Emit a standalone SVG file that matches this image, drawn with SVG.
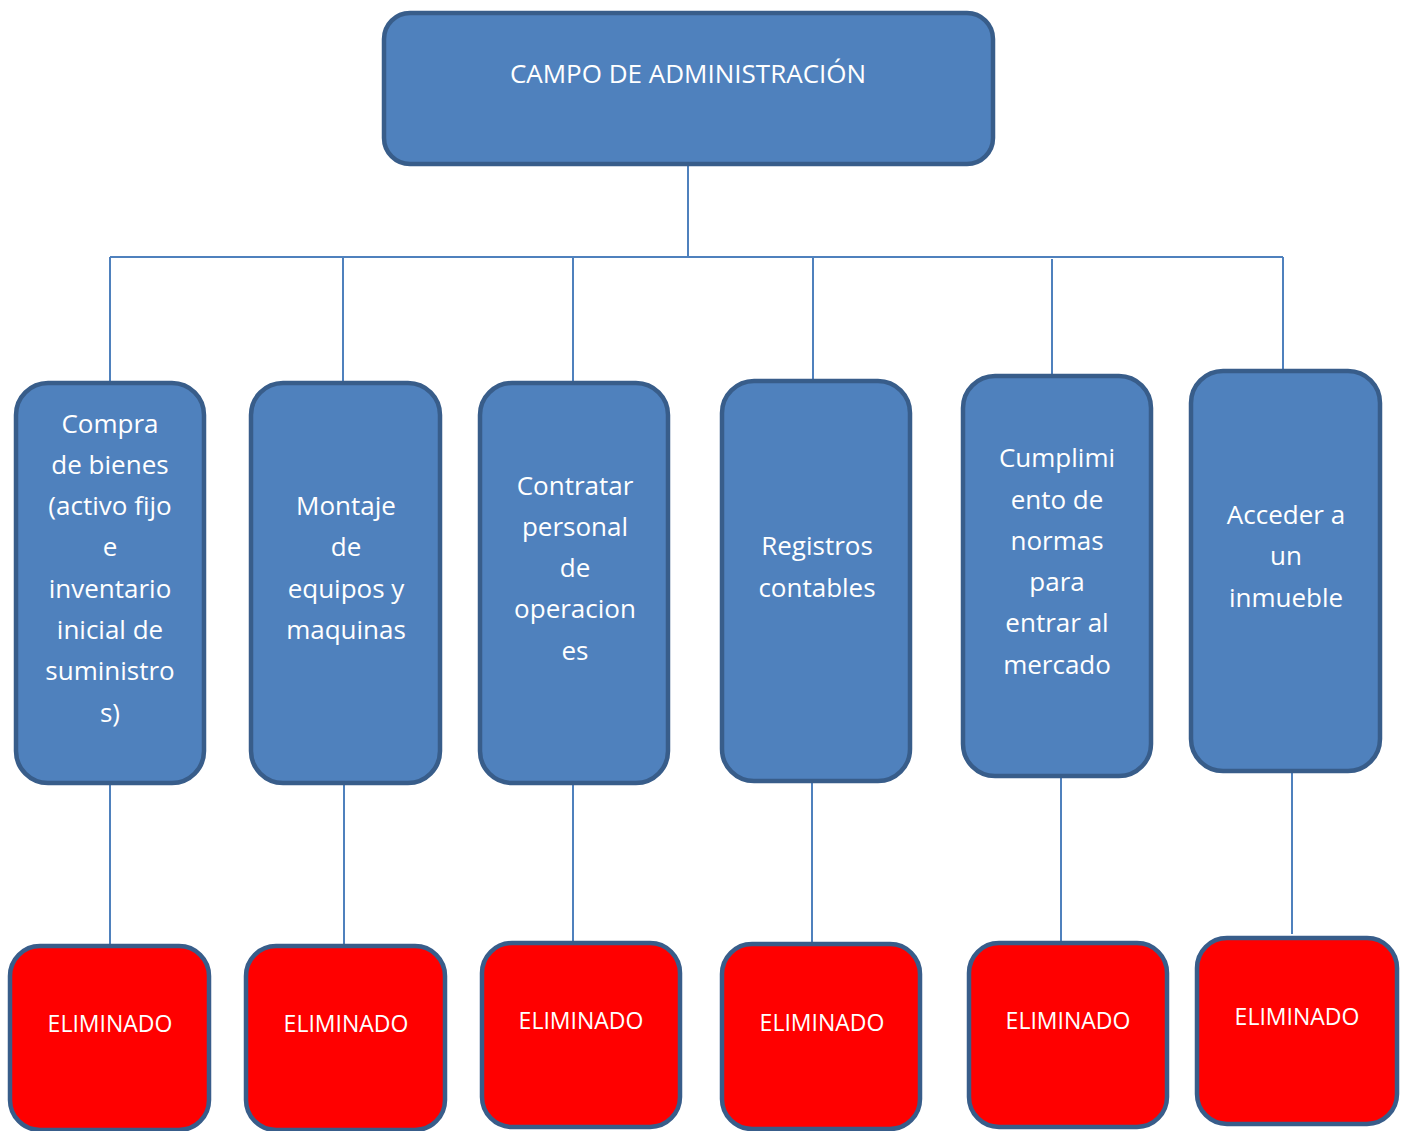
<svg xmlns="http://www.w3.org/2000/svg" width="1408" height="1131" viewBox="0 0 1408 1131">
<style>
.blue{fill:#4f81bd;stroke:#385d8a;stroke-width:4.5}
.red{fill:#ff0000;stroke:#385d8a;stroke-width:4.5}
.t{font-family:"Open Sans","Noto Sans",sans-serif;fill:#ffffff;text-anchor:middle}
.tb{font-size:26px}
.tr{font-size:23px}
.conn line{stroke:#4f81bd;stroke-width:2}
</style>
<rect width="1408" height="1131" fill="#ffffff"/>
<g id="connectors" class="conn">
<line x1="688" y1="166" x2="688" y2="257"/>
<line x1="110" y1="257" x2="1283" y2="257"/>
<line x1="110" y1="257" x2="110" y2="382"/>
<line x1="343" y1="257" x2="343" y2="382"/>
<line x1="573" y1="257" x2="573" y2="382"/>
<line x1="813" y1="257" x2="813" y2="380"/>
<line x1="1052" y1="259" x2="1052" y2="375"/>
<line x1="1283" y1="257" x2="1283" y2="370"/>
<line x1="110" y1="785" x2="110" y2="945"/>
<line x1="344" y1="785" x2="344" y2="945"/>
<line x1="573" y1="785" x2="573" y2="942"/>
<line x1="812" y1="783" x2="812" y2="943"/>
<line x1="1061" y1="778" x2="1061" y2="942"/>
<line x1="1292" y1="773" x2="1292" y2="934"/>
</g>
<g id="root">
<rect class="blue" x="384" y="13" width="609" height="151" rx="26"/>
<text class="t" x="688" y="83" font-size="26">CAMPO DE ADMINISTRACIÓN</text>
</g>
<g id="n1">
<rect class="blue" x="16" y="383" width="188" height="400" rx="32"/>
<text class="t tb"><tspan x="110" y="433">Compra</tspan><tspan x="110" y="474">de bienes</tspan><tspan x="110" y="515">(activo fijo</tspan><tspan x="110" y="556">e</tspan><tspan x="110" y="598">inventario</tspan><tspan x="110" y="639">inicial de</tspan><tspan x="110" y="680">suministro</tspan><tspan x="110" y="722">s)</tspan></text>
</g>
<g id="n2">
<rect class="blue" x="251" y="383" width="189" height="400" rx="32"/>
<text class="t tb"><tspan x="346" y="515">Montaje</tspan><tspan x="346" y="556">de</tspan><tspan x="346" y="598">equipos y</tspan><tspan x="346" y="639">maquinas</tspan></text>
</g>
<g id="n3">
<rect class="blue" x="480" y="383" width="188" height="400" rx="32"/>
<text class="t tb"><tspan x="575" y="495">Contratar</tspan><tspan x="575" y="536">personal</tspan><tspan x="575" y="577">de</tspan><tspan x="575" y="618">operacion</tspan><tspan x="575" y="660">es</tspan></text>
</g>
<g id="n4">
<rect class="blue" x="722" y="381" width="188" height="400" rx="32"/>
<text class="t tb"><tspan x="817" y="555">Registros</tspan><tspan x="817" y="597">contables</tspan></text>
</g>
<g id="n5">
<rect class="blue" x="963" y="376" width="188" height="400" rx="32"/>
<text class="t tb"><tspan x="1057" y="467">Cumplimi</tspan><tspan x="1057" y="509">ento de</tspan><tspan x="1057" y="550">normas</tspan><tspan x="1057" y="591">para</tspan><tspan x="1057" y="632">entrar al</tspan><tspan x="1057" y="674">mercado</tspan></text>
</g>
<g id="n6">
<rect class="blue" x="1191" y="371" width="189" height="400" rx="32"/>
<text class="t tb"><tspan x="1286" y="524">Acceder a</tspan><tspan x="1286" y="565">un</tspan><tspan x="1286" y="607">inmueble</tspan></text>
</g>
<g id="e1">
<rect class="red" x="10" y="946" width="199" height="184" rx="30"/>
<text class="t tr" x="110" y="1032">ELIMINADO</text>
</g>
<g id="e2">
<rect class="red" x="246" y="946" width="199" height="184" rx="30"/>
<text class="t tr" x="346" y="1032">ELIMINADO</text>
</g>
<g id="e3">
<rect class="red" x="482" y="943" width="198" height="184" rx="30"/>
<text class="t tr" x="581" y="1029">ELIMINADO</text>
</g>
<g id="e4">
<rect class="red" x="722" y="944" width="198" height="185" rx="30"/>
<text class="t tr" x="822" y="1031">ELIMINADO</text>
</g>
<g id="e5">
<rect class="red" x="969" y="943" width="198" height="184" rx="30"/>
<text class="t tr" x="1068" y="1029">ELIMINADO</text>
</g>
<g id="e6">
<rect class="red" x="1197" y="938" width="200" height="186" rx="30"/>
<text class="t tr" x="1297" y="1025">ELIMINADO</text>
</g>
</svg>
